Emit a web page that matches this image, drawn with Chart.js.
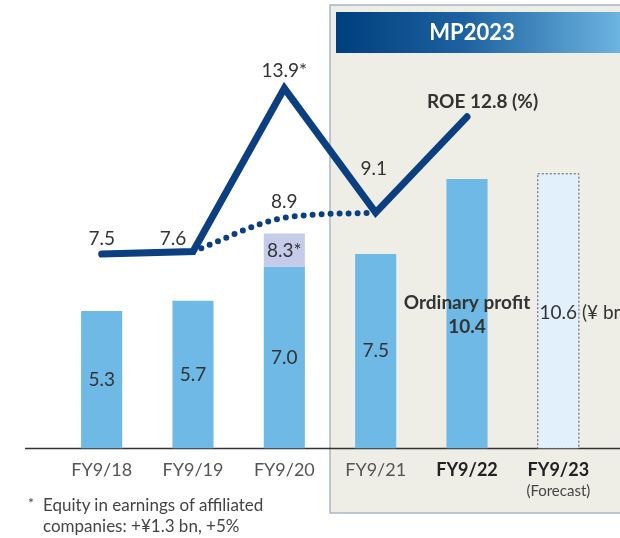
<!DOCTYPE html>
<html>
<head>
<meta charset="utf-8">
<script src="https://cdn.jsdelivr.net/npm/chart.js@4"></script>
<style>
  body { margin: 0; background: #fff; }
  #wrap { position: relative; width: 620px; height: 538px; }
  #note { position: absolute; left: 28px; top: 494px; font: 17px Lato, sans-serif; color: #444; line-height: 21px; }
  #note .ln { padding-left: 15px; position: relative; }
  #note .star { position: absolute; left: 0; top: -2px; font-size: 14px; }
</style>
</head>
<body>
<div id="wrap">
  <canvas id="chart" width="620" height="538"></canvas>
  <div id="note">
    <div class="ln"><span class="star">*</span>Equity in earnings of affiliated</div>
    <div class="ln">companies: +¥1.3 bn, +5%</div>
  </div>
</div>
<script>
// fiscal years on the x axis
const categories = ['FY9/18', 'FY9/19', 'FY9/20', 'FY9/21', 'FY9/22', 'FY9/23'];
// ordinary profit (¥ bn), forecast kept apart
const ordinaryProfit = [5.3, 5.7, 7.0, 7.5, 10.4, null];
const equityEarnings = [null, null, 1.3, null, null, null];
const profitForecast = [null, null, null, null, null, 10.6];
// ROE (%), with and without equity in earnings of affiliates
const roe = [7.5, 7.6, 13.9, 9.1, 12.8, null];
const roeExEquity = [null, 7.6, 8.9, 9.1, null, null];
const roeNotes = ['', '', '*', '', '', ''];

const LINE_BLUE = '#0B3F7F';
const TEXT = '#333';

// panel + header behind the MP2023 years
const backdrop = {
  id: 'backdrop',
  beforeDraw(chart) {
    const { ctx, scales: { x }, width } = chart;
    const left = (x.getPixelForValue(2) + x.getPixelForValue(3)) / 2;
    ctx.save();
    ctx.fillStyle = '#EFEEE6';
    ctx.fillRect(left, 5, width - left + 2, 508);
    ctx.strokeStyle = '#A9B6C6';
    ctx.lineWidth = 1.5;
    ctx.strokeRect(left, 5, width - left + 2, 508);

    const g = ctx.createLinearGradient(left + 6, 0, width, 0);
    g.addColorStop(0, '#003E7E');
    g.addColorStop(0.45, '#1D62A0');
    g.addColorStop(1, '#6CB4E1');
    ctx.fillStyle = g;
    ctx.fillRect(left + 6, 12, width - left - 6, 41);
    ctx.fillStyle = '#fff';
    ctx.font = 'bold 22px Lato, sans-serif';
    ctx.textAlign = 'center';
    ctx.textBaseline = 'middle';
    ctx.fillText('MP2023', (left + 6 + width) / 2 - 6, 33);
    ctx.restore();
  },
  // base line across the whole width
  beforeDatasetsDraw(chart) {
    const { ctx, scales: { y }, width } = chart;
    ctx.save();
    ctx.strokeStyle = '#333';
    ctx.lineWidth = 1.5;
    ctx.beginPath();
    ctx.moveTo(25, y.getPixelForValue(0));
    ctx.lineTo(width, y.getPixelForValue(0));
    ctx.stroke();
    ctx.restore();
  }
};

// value labels, forecast outline, "(Forecast)" note
const labels = {
  id: 'labels',
  afterDatasetsDraw(chart) {
    const { ctx, scales: { x } } = chart;
    ctx.save();
    ctx.textAlign = 'center';
    ctx.textBaseline = 'middle';
    ctx.fillStyle = TEXT;

    // forecast bar dotted outline
    const fc = chart.getDatasetMeta(2).data[5];
    ctx.strokeStyle = '#555';
    ctx.lineWidth = 1;
    ctx.setLineDash([2, 2]);
    ctx.strokeRect(fc.x - fc.width / 2, fc.y, fc.width, fc.base - fc.y);
    ctx.setLineDash([]);

    const reg = '19px Lato, sans-serif';
    const bold = 'bold 19px Lato, sans-serif';

    const pm = chart.getDatasetMeta(0);
    ordinaryProfit.forEach((v, i) => {
      if (v == null) return;
      const el = pm.data[i];
      const mid = (el.y + el.base) / 2;
      if (i === 4) {
        ctx.font = bold;
        ctx.fillText('Ordinary profit', el.x, mid - 11);
        ctx.fillText(v.toFixed(1), el.x, mid + 13);
      } else {
        ctx.font = reg;
        ctx.fillText(v.toFixed(1), el.x, mid);
      }
    });

    const em = chart.getDatasetMeta(1);
    equityEarnings.forEach((v, i) => {
      if (v == null) return;
      const el = em.data[i];
      ctx.font = reg;
      ctx.fillText((ordinaryProfit[i] + v).toFixed(1) + '*', el.x, (el.y + el.base) / 2 + 1);
    });

    ctx.font = reg;
    ctx.textAlign = 'left';
    const fx = fc.x - ctx.measureText(profitForecast[5].toFixed(1)).width / 2;
    ctx.fillText(profitForecast[5].toFixed(1) + ' (¥ bn)', fx, (fc.y + fc.base) / 2 + 2);
    ctx.textAlign = 'center';

    const rm = chart.getDatasetMeta(3);
    const off = [[0, -15], [-20, -13], [0, -17], [-2, -44]];
    roe.forEach((v, i) => {
      if (v == null) return;
      const el = rm.data[i];
      if (i === 4) {
        ctx.font = bold;
        ctx.textAlign = 'left';
        ctx.fillText('ROE ' + v.toFixed(1) + ' (%)', el.x - 40, el.y - 15);
        ctx.textAlign = 'center';
        return;
      }
      ctx.font = reg;
      ctx.fillText(v.toFixed(1) + roeNotes[i], el.x + off[i][0], el.y + off[i][1]);
    });

    const dm = chart.getDatasetMeta(4);
    ctx.font = reg;
    ctx.fillText(roeExEquity[2].toFixed(1), dm.data[2].x, dm.data[2].y - 16);

    ctx.font = '15px Lato, sans-serif';
    ctx.fillStyle = '#444';
    ctx.fillText('(Forecast)', x.getPixelForValue(5), 491);
    ctx.restore();
  }
};

new Chart(document.getElementById('chart'), {
  type: 'bar',
  data: {
    labels: categories,
    datasets: [{
      label: 'Ordinary profit',
      data: ordinaryProfit,
      backgroundColor: '#6EB9E6',
      stack: 'profit',
      order: 2
    }, {
      label: 'Equity in earnings',
      data: equityEarnings,
      backgroundColor: '#C4CCEA',
      stack: 'profit',
      order: 2
    }, {
      label: 'Forecast',
      data: profitForecast,
      backgroundColor: '#E2F0FB',
      stack: 'profit',
      order: 2
    }, {
      type: 'line',
      label: 'ROE',
      data: roe,
      borderColor: LINE_BLUE,
      borderWidth: 7,
      borderCapStyle: 'round',
      borderJoinStyle: 'miter',
      tension: 0,
      pointRadius: 0,
      stack: 'roe',
      order: 0
    }, {
      type: 'line',
      label: 'ROE excl. equity',
      data: roeExEquity,
      borderColor: LINE_BLUE,
      borderWidth: 6,
      borderCapStyle: 'round',
      borderDash: [0, 9],
      cubicInterpolationMode: 'monotone',
      pointRadius: 0,
      stack: 'roeEx',
      order: 1
    }]
  },
  options: {
    responsive: false,
    animation: false,
    datasets: { bar: { barPercentage: 0.45, categoryPercentage: 1 } },
    layout: { padding: { left: 56, right: 16, top: 8, bottom: 54 } },
    plugins: { legend: { display: false }, tooltip: { enabled: false } },
    scales: {
      x: {
        stacked: true,
        grid: { display: false },
        border: { display: false },
        ticks: {
          padding: 3,
          font: (c) => ({ family: 'Lato, sans-serif', size: 18, weight: c.index >= 4 ? 'bold' : 'normal' }),
          color: (c) => c.index >= 4 ? '#222' : '#555'
        }
      },
      y: { stacked: true, display: false, min: 0, max: 17 }
    }
  },
  plugins: [backdrop, labels]
});
</script>
</body>
</html>
